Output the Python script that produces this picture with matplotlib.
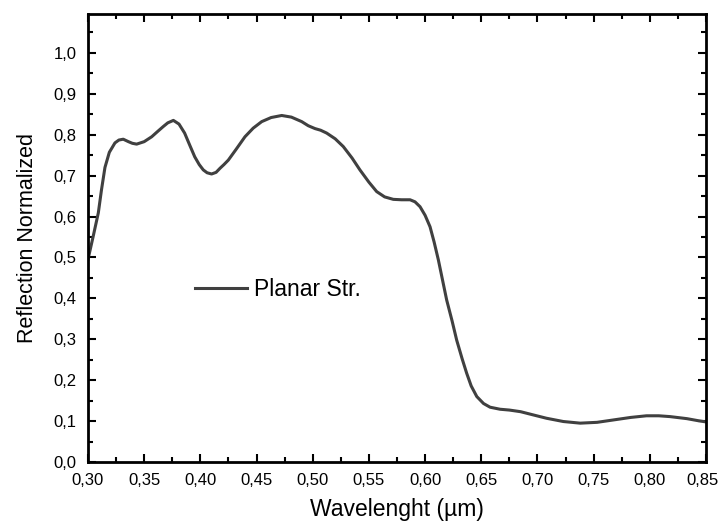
import matplotlib
matplotlib.use("Agg")
import matplotlib.pyplot as plt
from matplotlib.ticker import MultipleLocator, FuncFormatter
from matplotlib.transforms import ScaledTranslation

# values
wavelength = [0.300, 0.3045, 0.3092, 0.312, 0.3151, 0.319, 0.324, 0.3275, 0.3314, 0.336,
              0.3395, 0.3433, 0.350, 0.3567, 0.362, 0.367, 0.371, 0.376, 0.381, 0.386,
              0.390, 0.395, 0.399, 0.4026, 0.406, 0.410, 0.414, 0.4175, 0.421, 0.4249,
              0.432, 0.4397, 0.447, 0.4546, 0.463, 0.4724, 0.481, 0.4902, 0.496, 0.502,
              0.507, 0.5124, 0.520, 0.5272, 0.535, 0.542, 0.550, 0.5569, 0.564, 0.5717,
              0.579, 0.5866, 0.591, 0.5955, 0.600, 0.6044, 0.608, 0.6118, 0.6155, 0.6192,
              0.624, 0.6281, 0.633, 0.637, 0.641, 0.646, 0.652, 0.6578, 0.6667, 0.675,
              0.685, 0.695, 0.708, 0.723, 0.738, 0.753, 0.768, 0.783, 0.797, 0.808,
              0.818, 0.833, 0.843, 0.850]
reflection = [0.495, 0.550, 0.609, 0.665, 0.720, 0.757, 0.780, 0.787, 0.789, 0.783,
              0.779, 0.777, 0.783, 0.795, 0.808, 0.820, 0.829, 0.835, 0.826, 0.804,
              0.778, 0.746, 0.727, 0.714, 0.707, 0.704, 0.708, 0.718, 0.727, 0.738,
              0.765, 0.795, 0.816, 0.832, 0.842, 0.847, 0.843, 0.832, 0.822, 0.815,
              0.811, 0.804, 0.790, 0.771, 0.743, 0.714, 0.684, 0.661, 0.648, 0.642,
              0.641, 0.641, 0.636, 0.624, 0.603, 0.575, 0.538, 0.494, 0.445, 0.396,
              0.345, 0.298, 0.252, 0.217, 0.186, 0.160, 0.143, 0.134, 0.129, 0.127,
              0.123, 0.116, 0.107, 0.099, 0.095, 0.097, 0.103, 0.109, 0.113, 0.113,
              0.111, 0.106, 0.101, 0.098]

plt.rcParams["font.family"] = ["Liberation Sans", "DejaVu Sans"]

fig = plt.figure(figsize=(7.2, 5.27), dpi=100)
ax = fig.add_axes([0.1222, 0.1233, 0.8584, 0.8501])

ax.plot(wavelength, reflection, color="#404040", linewidth=2.2, label="Planar Str.")

ax.set_xlim(0.30, 0.85)
ax.set_ylim(0.0, 1.095)

ax.xaxis.set_major_locator(MultipleLocator(0.05))
ax.xaxis.set_minor_locator(MultipleLocator(0.025))
ax.yaxis.set_major_locator(MultipleLocator(0.1))
ax.yaxis.set_minor_locator(MultipleLocator(0.05))
ax.xaxis.set_major_formatter(FuncFormatter(lambda v, _: "{:.2f}".format(v).replace(".", ",")))
ax.yaxis.set_major_formatter(FuncFormatter(lambda v, _: "{:.1f}".format(v).replace(".", ",")))

ax.tick_params(which="both", direction="in", top=True, right=True, width=1.5, labelsize=12, pad=8)
ax.tick_params(which="major", length=6)
ax.tick_params(which="minor", length=3.5)
for s in ax.spines.values():
    s.set_linewidth(2)

ax.set_xlabel("Wavelenght (µm)", fontsize=16.5, labelpad=7)
ax.set_ylabel("Reflection Normalized", fontsize=15.5, labelpad=11)

ax.legend(loc="center left", bbox_to_anchor=(0.173, 0.384), frameon=False, fontsize=16.5,
          handlelength=2.27, handletextpad=0.3, borderpad=0, borderaxespad=0)

# nudge the last x tick label a bit left so it stays inside the figure
fig.canvas.draw()
for loc, tick in zip(ax.xaxis.get_majorticklocs(), ax.xaxis.get_major_ticks()):
    if abs(loc - 0.85) < 1e-6:
        lab = tick.label1
        lab.set_transform(lab.get_transform() + ScaledTranslation(-0.035, 0, fig.dpi_scale_trans))

fig.savefig("out.png", dpi=100)
